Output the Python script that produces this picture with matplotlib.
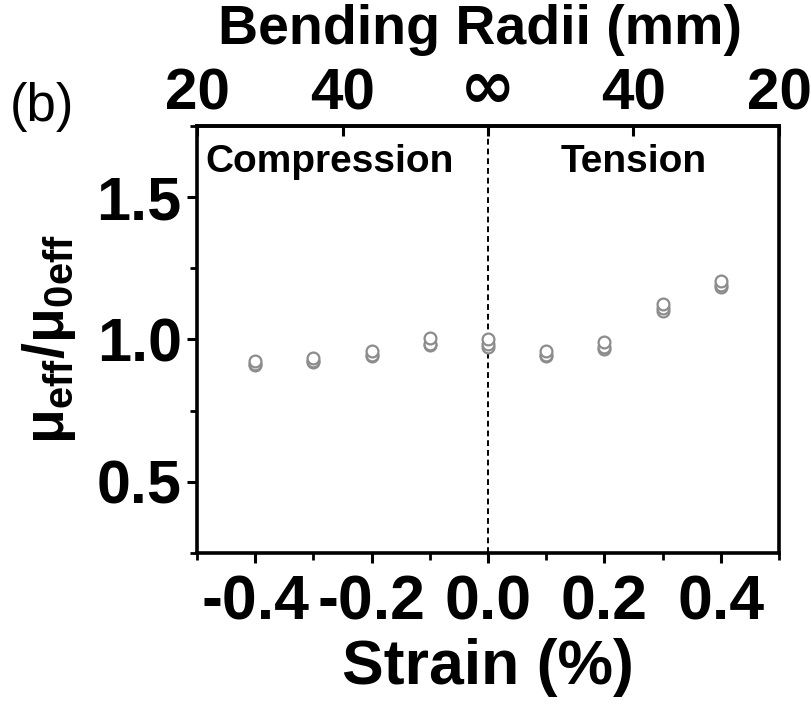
import matplotlib
matplotlib.use("Agg")
import matplotlib.pyplot as plt
from matplotlib.ticker import MultipleLocator

plt.rcParams['font.family'] = ['Liberation Sans', 'DejaVu Sans']
plt.rcParams['font.weight'] = 'bold'
plt.rcParams['mathtext.fontset'] = 'custom'
plt.rcParams['mathtext.rm'] = 'Liberation Sans:bold'
plt.rcParams['mathtext.it'] = 'Liberation Sans:bold'
plt.rcParams['mathtext.bf'] = 'Liberation Sans:bold'
plt.rcParams['mathtext.default'] = 'rm'

# data
strain = [-0.4, -0.3, -0.2, -0.1, 0.0, 0.1, 0.2, 0.3, 0.4]
run1 = [0.925, 0.935, 0.960, 1.005, 1.000, 0.960, 0.990, 1.125, 1.205]
run2 = [0.915, 0.925, 0.945, 0.985, 0.985, 0.945, 0.975, 1.110, 1.190]
run3 = [0.910, 0.920, 0.940, 0.980, 0.975, 0.940, 0.965, 1.100, 1.185]
top_ticks = [-0.5, -0.25, 0.0, 0.25, 0.5]
top_labels = ['20', '40', '∞', '40', '20']

fig = plt.figure(figsize=(8.11, 7.06), dpi=100)
ax = fig.add_axes([0.243, 0.217, 0.7175, 0.6045])

for run in (run3, run2, run1):
    ax.plot(strain, run, 'o', ms=8.5, mfc='white', mec='#8c8c8c', mew=1.6, ls='none', zorder=3)

ax.axvline(0, color='black', ls=(0, (3, 2)), lw=1.4, zorder=2, clip_on=False)

ax.set_xlim(-0.5, 0.5)
ax.set_ylim(0.25, 1.75)
ax.xaxis.set_major_locator(MultipleLocator(0.2))
ax.xaxis.set_minor_locator(MultipleLocator(0.1))
ax.yaxis.set_major_locator(MultipleLocator(0.5))
ax.yaxis.set_minor_locator(MultipleLocator(0.25))
ax.set_xticks([-0.4, -0.2, 0.0, 0.2, 0.4])
ax.set_xticklabels(['-0.4', '-0.2', '0.0', '0.2', '0.4'])
ax.set_yticks([0.5, 1.0, 1.5])
ax.set_yticklabels(['0.5', '1.0', '1.5'])

for s in ax.spines.values():
    s.set_linewidth(2.6)

ax.tick_params(axis='both', which='major', direction='out', length=7, width=2.2, labelsize=45)
ax.tick_params(axis='both', which='minor', direction='out', length=5, width=2.0)
ax.tick_params(axis='x', which='major', pad=8)
ax.tick_params(axis='y', which='major', pad=4, labelsize=44)

ax.set_xlabel('Strain (%)', fontsize=45, fontweight='bold', labelpad=4)
ax.set_ylabel('μ$_{\\mathregular{eff}}$/μ$_{\\mathregular{0eff}}$', fontsize=41, fontweight='bold')
ax.yaxis.set_label_coords(-0.205, 0.5)

top = ax.secondary_xaxis('top')
top.set_xticks(top_ticks)
top.set_xticklabels(top_labels)
top.tick_params(direction='in', length=7, width=2.2, labelsize=42, pad=3)
for lab in top.get_xticklabels():
    if lab.get_text() == '∞':
        lab.set_fontfamily(['DejaVu Sans'])
        lab.set_fontsize(48)
for s in top.spines.values():
    s.set_linewidth(2.6)

fig.text(0.592, 0.937, 'Bending Radii (mm)', fontsize=40, fontweight='bold',
         ha='center', va='baseline')

ax.text(-0.486, 1.625, 'Compression', fontsize=28, fontweight='bold', ha='left', va='center')
ax.text(0.25, 1.625, 'Tension', fontsize=28, fontweight='bold', ha='center', va='center')

fig.text(0.012, 0.848, '(b)', fontsize=38, fontweight='normal', ha='left', va='center')

fig.savefig('out.png', dpi=100)
